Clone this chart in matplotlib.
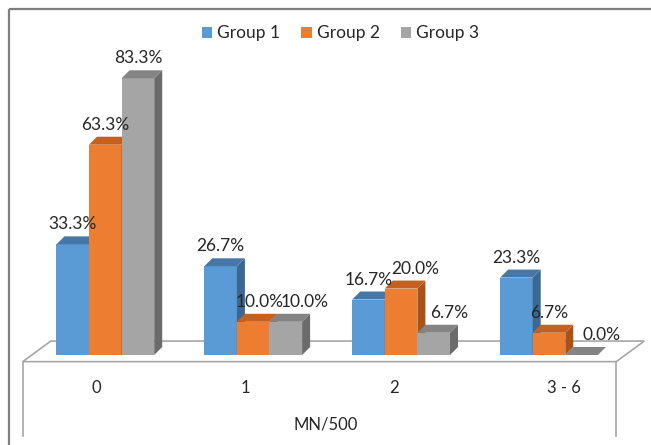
import matplotlib.pyplot as plt
from matplotlib.patches import Polygon
import numpy as np

plt.rcParams['font.family'] = ['Lato', 'DejaVu Sans']

categories = ['0', '1', '2', '3 - 6']
groups = ['Group 1', 'Group 2', 'Group 3']
group1 = [33.3, 26.7, 16.7, 23.3]
group2 = [63.3, 10.0, 20.0, 6.7]
group3 = [83.3, 10.0, 6.7, 0.0]
axis_title = 'MN/500'

front = ['#5B9BD5', '#ED7D31', '#A5A5A5']
top_c = ['#4677A6', '#C4611F', '#848484']
side_c = ['#3B6892', '#A9531B', '#6B6B6B']
text_c = '#262626'
line_c = '#A6A6A6'

# one pixel in data units along each axis
px_x = 1 / 147.9
px_y = 1 / 3.322

fig = plt.figure(figsize=(6.51, 4.45), dpi=100)
ax = fig.add_axes([0, 0, 1, 1])
ax.set_xlim(-105.3 * px_x, 545.7 * px_x)
ax.set_ylim(-90 * px_y, 355 * px_y)
ax.axis('off')

# outer chart border (top and left edges)
ax.plot([9 * px_x - 0.712, 3.7], [106.86 - 9 * px_y] * 2, color='#7F7F7F', lw=1.6,
        solid_capstyle='butt', clip_on=False)
ax.plot([9 * px_x - 0.712] * 2, [106.86 - 9 * px_y, -28], color='#7F7F7F', lw=1.6,
        solid_capstyle='butt', clip_on=False)

# floor plate with its front wall
fl_x0, fl_x1 = -0.558, 3.455
fl_front, fl_back = -2.0, 4.2
fl_shift = 28 * px_x
fl_bottom = -24.5
floor = Polygon([(fl_x0, fl_front), (fl_x0 + fl_shift, fl_back), (fl_x1 + fl_shift, fl_back),
                 (fl_x1, fl_front)], closed=True, facecolor='white', edgecolor=line_c, lw=1.2)
ax.add_patch(floor)
ax.plot([fl_x0, fl_x0], [fl_front, fl_bottom], color=line_c, lw=1.2)
ax.plot([fl_x1, fl_x1], [fl_front, fl_bottom], color=line_c, lw=1.2)

# 3-D style bars: front face from ax.bar, then top and side faces
w = 32.6 * px_x
dx = 8 * px_x
dy = 8 * px_y
x = np.arange(len(categories))
series = [group1, group2, group3]
nudge = [[0, 0, 0, 0], [0, 6.5, 14, 0], [0, 19, 15, 20]]

for j, vals in enumerate(series):
    xs = x + (j - 1) * w
    ax.bar(xs, vals, width=w, color=front[j], label=groups[j], zorder=2 + j)
    for k, v in enumerate(vals):
        x0 = xs[k] - w / 2
        x1 = xs[k] + w / 2
        ax.add_patch(Polygon([(x1, 0), (x1, v), (x1 + dx, v + dy), (x1 + dx, dy)],
                             closed=True, facecolor=side_c[j], edgecolor='none', zorder=2 + j))
        ax.add_patch(Polygon([(x0, v), (x1, v), (x1 + dx, v + dy), (x0 + dx, v + dy)],
                             closed=True, facecolor=top_c[j], edgecolor='none', zorder=2 + j))
        ax.text(xs[k] + nudge[j][k] * px_x, v + dy + 1.2, f'{v:.1f}%', ha='center',
                va='bottom', fontsize=12.5, color=text_c, zorder=10)

# category labels under the floor
tick_nudge = [-8.6, -7.5, -7, 15]
for k, c in enumerate(categories):
    ax.text(x[k] + tick_nudge[k] * px_x, -10, c, ha='center', va='center',
            fontsize=12, color=text_c)
ax.text(1.49, -20.8, axis_title, ha='center', va='center', fontsize=12, color=text_c)

ax.legend(loc='upper center', bbox_to_anchor=(0.523, 0.978), ncol=3, frameon=False,
          fontsize=12.5, handlelength=0.6, handleheight=0.6, handletextpad=0.3,
          columnspacing=1.2, labelcolor=text_c)

fig.savefig('out.png', dpi=100)
